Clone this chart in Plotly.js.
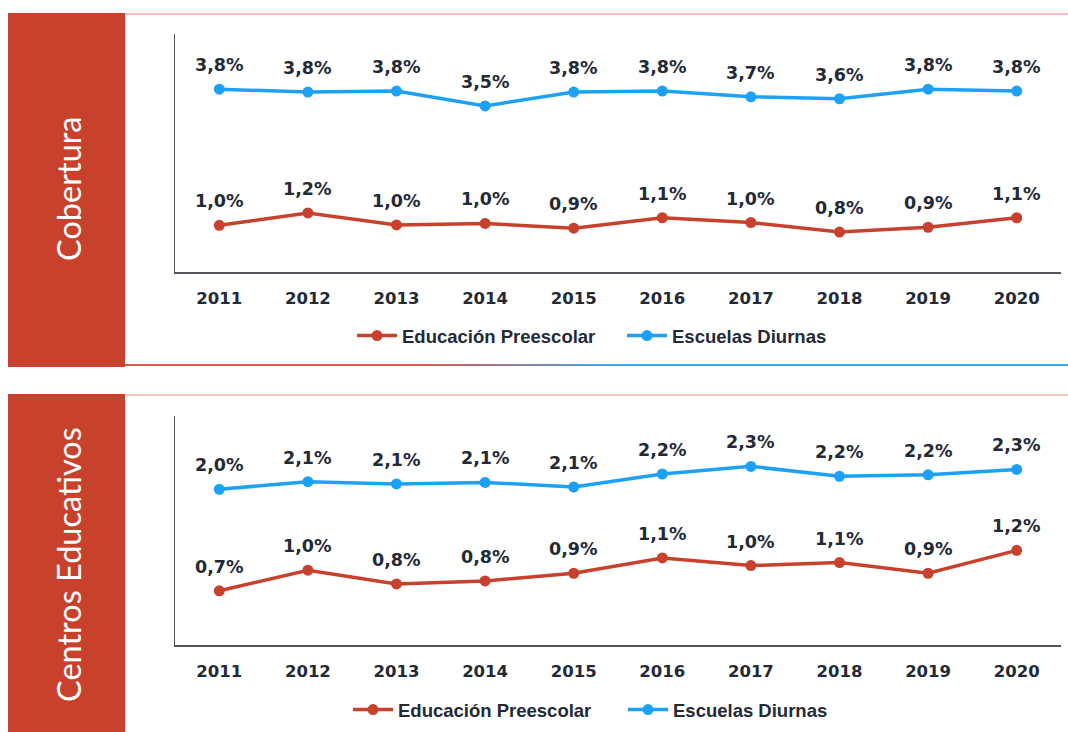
<!DOCTYPE html>
<html>
<head>
<meta charset="utf-8">
<script src="https://cdn.plot.ly/plotly-3.0.1.min.js"></script>
<style>
  html, body { margin: 0; padding: 0; background: #ffffff; }
  #chart { width: 1068px; height: 732px; }
</style>
</head>
<body>
<div id="chart"></div>
<script>
// ---- Data ----
const years = ['2011', '2012', '2013', '2014', '2015', '2016', '2017', '2018', '2019', '2020'];
const seriesNames = ['Educación Preescolar', 'Escuelas Diurnas'];
const panelTitles = ['Cobertura', 'Centros Educativos'];

// Panel 1: Cobertura (%)
const cobPreescolar = [0.98, 1.24, 0.99, 1.02, 0.92, 1.14, 1.04, 0.84, 0.94, 1.14];
const cobDiurnas    = [3.84, 3.78, 3.80, 3.49, 3.78, 3.80, 3.68, 3.64, 3.84, 3.80];

// Panel 2: Centros Educativos (%)
const cenPreescolar = [0.71, 0.98, 0.80, 0.84, 0.94, 1.14, 1.04, 1.08, 0.94, 1.24];
const cenDiurnas    = [2.04, 2.14, 2.11, 2.13, 2.07, 2.24, 2.34, 2.21, 2.23, 2.30];

// ---- Styling ----
const RED = '#c8412d';
const BLUE = '#1da1f7';
const TEXT = '#232a36';
const AXIS = '#50555e';
const W = 1068, H = 732;
const px = x => x / W;
const py = y => 1 - y / H;

const fmt = v => v.toFixed(1).replace('.', ',') + '%';

function lineTrace(yvals, name, color, xa, ya, legend) {
  return {
    type: 'scatter', mode: 'lines+markers',
    x: years, y: yvals, name: name,
    xaxis: xa, yaxis: ya, legend: legend, showlegend: true,
    line: { color: color, width: 3.5 },
    marker: { color: color, size: 11 },
    hoverinfo: 'skip'
  };
}

const traces = [
  lineTrace(cobPreescolar, seriesNames[0], RED, 'x', 'y', 'legend'),
  lineTrace(cobDiurnas, seriesNames[1], BLUE, 'x', 'y', 'legend'),
  lineTrace(cenPreescolar, seriesNames[0], RED, 'x2', 'y2', 'legend2'),
  lineTrace(cenDiurnas, seriesNames[1], BLUE, 'x2', 'y2', 'legend2')
];

const labelFont = { family: 'DejaVu Sans', size: 17.5, color: TEXT, weight: 'bold' };
const annotations = [];
function addLabels(yvals, xref, yref) {
  yvals.forEach((v, i) => {
    annotations.push({
      x: i, y: v, xref: xref, yref: yref,
      text: fmt(v), showarrow: false,
      xanchor: 'center', yanchor: 'middle', yshift: 24,
      font: labelFont
    });
  });
}
addLabels(cobPreescolar, 'x', 'y');
addLabels(cobDiurnas, 'x', 'y');
addLabels(cenPreescolar, 'x2', 'y2');
addLabels(cenDiurnas, 'x2', 'y2');

// Side titles
annotations.push({
  xref: 'paper', yref: 'paper', x: px(68), y: py(189),
  text: panelTitles[0], textangle: -90, showarrow: false,
  font: { family: 'Lato', size: 32.5, color: '#ffffff' },
  xanchor: 'center', yanchor: 'middle'
});
annotations.push({
  xref: 'paper', yref: 'paper', x: px(68), y: py(565),
  text: panelTitles[1], textangle: -90, showarrow: false,
  font: { family: 'Lato', size: 32.5, color: '#ffffff' },
  xanchor: 'center', yanchor: 'middle'
});

// Decorative shapes
const shapes = [
  { type: 'rect', xref: 'paper', yref: 'paper', x0: px(8), x1: px(125), y0: py(367), y1: py(13),
    fillcolor: RED, line: { width: 0 }, layer: 'below' },
  { type: 'rect', xref: 'paper', yref: 'paper', x0: px(8), x1: px(125), y0: py(732), y1: py(394),
    fillcolor: RED, line: { width: 0 }, layer: 'below' },
  { type: 'line', xref: 'paper', yref: 'paper', x0: px(125), x1: 1, y0: py(14), y1: py(14),
    line: { color: '#f2aca3', width: 1.5 } },
  { type: 'line', xref: 'paper', yref: 'paper', x0: px(125), x1: 1, y0: py(395), y1: py(395),
    line: { color: '#f2b4ac', width: 1.5 } }
];
// gradient divider line (red -> blue)
(function () {
  const c0 = [214, 92, 76], c1 = [58, 168, 245];
  const xs = 420, xe = 630, n = 14;
  shapes.push({ type: 'line', xref: 'paper', yref: 'paper', x0: px(125), x1: px(xs), y0: py(365), y1: py(365),
    line: { color: 'rgb(' + c0.join(',') + ')', width: 2 } });
  for (let k = 0; k < n; k++) {
    const t = (k + 0.5) / n;
    const c = c0.map((a, j) => Math.round(a + (c1[j] - a) * t));
    const a0 = xs + (xe - xs) * k / n, a1 = xs + (xe - xs) * (k + 1) / n;
    shapes.push({ type: 'line', xref: 'paper', yref: 'paper', x0: px(a0), x1: px(a1 + 0.5), y0: py(365), y1: py(365),
      line: { color: 'rgb(' + c.join(',') + ')', width: 2 } });
  }
  shapes.push({ type: 'line', xref: 'paper', yref: 'paper', x0: px(xe), x1: 1, y0: py(365), y1: py(365),
    line: { color: 'rgb(' + c1.join(',') + ')', width: 2 } });
})();

const tickFont = { family: 'DejaVu Sans', size: 16.5, color: TEXT, weight: 'bold' };
function xAxis(anchor) {
  return {
    domain: [px(175), px(1061)], anchor: anchor, type: 'category',
    range: [-0.5, 9.5], showgrid: false, zeroline: false,
    showline: true, linecolor: AXIS, linewidth: 1.5,
    ticks: '', ticklabelstandoff: 11, tickfont: tickFont, fixedrange: true
  };
}
function yAxis(anchor, domain, range) {
  return {
    domain: domain, anchor: anchor, range: range,
    showgrid: false, zeroline: false, showticklabels: false, ticks: '',
    showline: true, linecolor: AXIS, linewidth: 1.5, fixedrange: true
  };
}

const legendFont = { family: 'Liberation Sans', size: 18.5, color: TEXT, weight: 'bold' };
const layout = {
  width: W, height: H,
  margin: { l: 0, r: 0, t: 0, b: 0 },
  paper_bgcolor: '#ffffff', plot_bgcolor: 'rgba(0,0,0,0)',
  xaxis: xAxis('y'),
  yaxis: yAxis('x', [py(272), py(34)], [0, 5]),
  xaxis2: xAxis('y2'),
  yaxis2: yAxis('x2', [py(645), py(416)], [0, 3]),
  legend: {
    orientation: 'h', x: px(352), y: py(336), xanchor: 'left', yanchor: 'middle',
    font: legendFont, entrywidth: 215, entrywidthmode: 'pixels',
    itemwidth: 40, bgcolor: 'rgba(0,0,0,0)', traceorder: 'normal'
  },
  legend2: {
    orientation: 'h', x: px(348), y: py(710), xanchor: 'left', yanchor: 'middle',
    font: legendFont, entrywidth: 220, entrywidthmode: 'pixels',
    itemwidth: 40, bgcolor: 'rgba(0,0,0,0)', traceorder: 'normal'
  },
  annotations: annotations,
  shapes: shapes,
  showlegend: true
};

Plotly.newPlot('chart', traces, layout, { displayModeBar: false, staticPlot: true });
</script>
</body>
</html>
